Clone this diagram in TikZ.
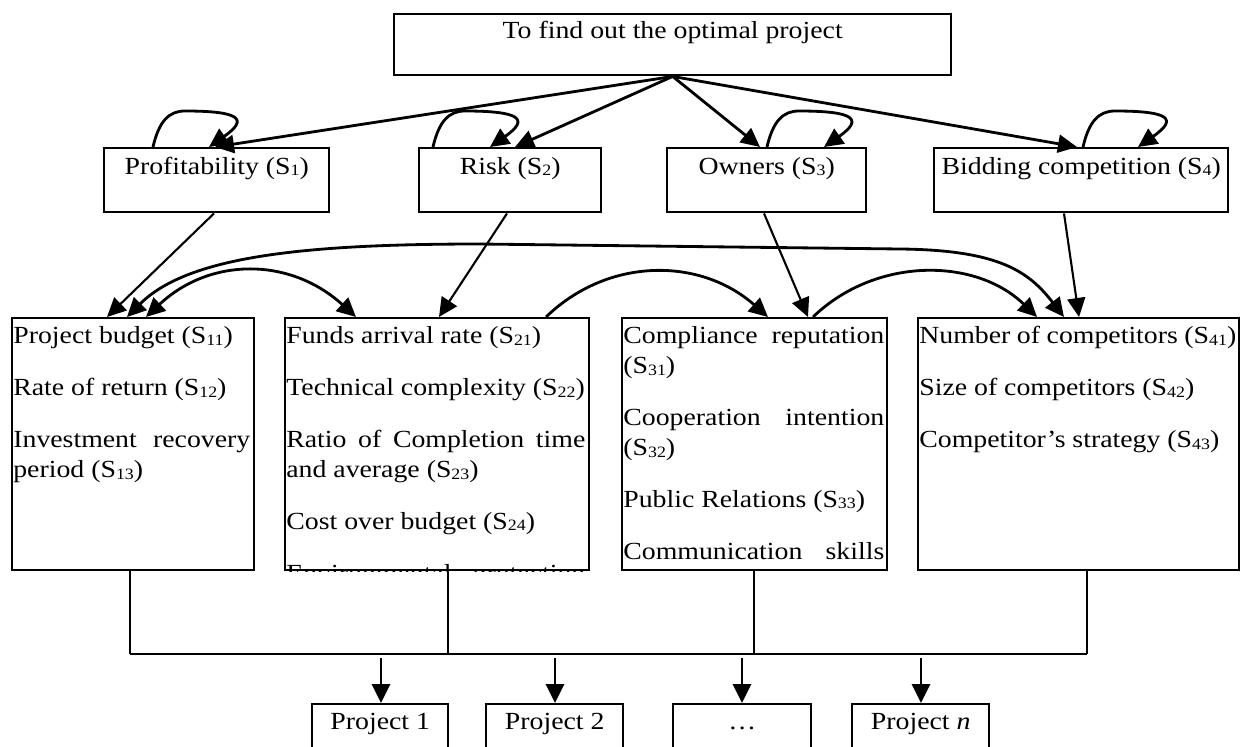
\documentclass[tikz,border=0pt]{standalone}
\usepackage{fontspec}
\setmainfont{Liberation Serif}[FakeStretch=1.13]
\usetikzlibrary{arrows.meta,calc}
\newcommand{\ssub}[1]{\raisebox{-0.15ex}{\fontsize{9pt}{9pt}\selectfont #1}}
\begin{document}
\begin{tikzpicture}[x=0.02cm, y=-0.02cm,
  font=\fontsize{14pt}{17.07pt}\selectfont,
  box/.style={draw, line width=1.4pt, inner sep=0pt, anchor=north west},
  lone/.style={box, text height=0.52cm, text depth=0.76cm, minimum height=1.28cm},
  ltwo/.style={box, minimum height=5.04cm},
  ltxt/.style={anchor=north west, inner sep=0pt},
  proj/.style={box, text height=0.5cm, text depth=1.0cm},
  tipm/.tip={Triangle[length=0.38cm,width=0.36cm]},
  arr/.style={line width=1.6pt, -tipm},
  barr/.style={line width=1.6pt, tipm-tipm},
  thinarr/.style={line width=1.2pt, -tipm},
  thinl/.style={line width=1.1pt},
  busl/.style={line width=1.6pt}]
\useasboundingbox (0,0) rectangle (1241,747);
\clip (0,0) rectangle (1241,747);

% top
\node[box, minimum width=11.14cm, text height=0.48cm, text depth=0.74cm] (top) at (393,13) {To find out the optimal project};

% level 1
\node[lone, minimum width=4.50cm] (p1) at (103,147) {Profitability (S\ssub{1})};
\node[lone, minimum width=3.64cm] (p2) at (418,147) {Risk (S\ssub{2})};
\node[lone, minimum width=3.98cm] (p3) at (666,147) {Owners (S\ssub{3})};
\node[lone, minimum width=5.88cm] (p4) at (933,147) {Bidding competition (S\ssub{4})};

% level 2 boxes
\node[ltwo, minimum width=4.84cm] (b1) at (11,317) {};
\node[ltwo, minimum width=6.08cm] (b2) at (284,317) {};
\node[ltwo, minimum width=5.30cm] (b3) at (621,317) {};
\node[ltwo, minimum width=6.42cm] (b4) at (917,317) {};

\node[ltxt] (t1) at ($(b1.north west)+(2,0)$) {\parbox[t]{4.74cm}{\setlength{\parskip}{0.44cm}\rule{0pt}{0.52cm}Project budget (S\ssub{11})\par
Rate of return (S\ssub{12})\par
Investment\hfill recovery\\period (S\ssub{13})}};

\begin{scope}
\clip (b2.north west) rectangle (b2.south east);
\node[ltxt] (t2) at ($(b2.north west)+(2,0)$) {\parbox[t]{5.98cm}{\setlength{\parskip}{0.44cm}\rule{0pt}{0.52cm}Funds arrival rate (S\ssub{21})\par
Technical complexity (S\ssub{22})\par
Ratio\hfill of\hfill Completion\hfill time\\and average (S\ssub{23})\par
Cost over budget (S\ssub{24})\par
Environmental\hfill protection}};
\end{scope}

\begin{scope}
\clip (b3.north west) rectangle (b3.south east);
\node[ltxt] (t3) at ($(b3.north west)+(2,0)$) {\parbox[t]{5.22cm}{\setlength{\parskip}{0.44cm}\rule{0pt}{0.52cm}Compliance\hfill reputation\\(S\ssub{31})\par
Cooperation\hfill intention\\(S\ssub{32})\par
Public Relations (S\ssub{33})\par
Communication\hfill skills}};
\end{scope}

\node[ltxt] (t4) at ($(b4.north west)+(2,0)$) {\parbox[t]{6.34cm}{\setlength{\parskip}{0.44cm}\rule{0pt}{0.52cm}Number of competitors (S\ssub{41})\par
Size of competitors (S\ssub{42})\par
Competitor's strategy (S\ssub{43})}};

% project boxes
\node[proj, minimum width=2.72cm] (q1) at (311,703) {Project 1};
\node[proj, minimum width=2.74cm] (q2) at (485,703) {Project 2};
\node[proj, minimum width=2.76cm] (q3) at (672,703) {\dots};
\node[proj, minimum width=2.74cm] (q4) at (851,703) {Project \textit{n}};

% top arrows
\draw[arr] (top.south) -- ($(p1.north west)+(112,0)$);
\draw[arr] (top.south) -- ($(p2.north west)+(97,0)$);
\draw[arr] (top.south) -- ($(p3.north west)+(94,0)$);
\draw[arr] (top.south) -- ($(p4.north west)+(144,0)$);

% self loops
\draw[arr] ($(p1.north west)+(50,0)$) .. controls +(6,-26) and +(-16,0) .. ++(32,-36)
  .. controls +(55,0) and +(40,-28) .. ($(p1.north west)+(106,0)$);
\draw[arr] ($(p2.north west)+(15,0)$) .. controls +(6,-26) and +(-16,0) .. ++(32,-36)
  .. controls +(55,0) and +(40,-28) .. ($(p2.north west)+(72,0)$);
\draw[arr] ($(p3.north west)+(101,0)$) .. controls +(6,-26) and +(-16,0) .. ++(32,-36)
  .. controls +(55,0) and +(40,-28) .. ($(p3.north west)+(158,0)$);
\draw[arr] ($(p4.north west)+(150,0)$) .. controls +(6,-26) and +(-16,0) .. ++(32,-36)
  .. controls +(55,0) and +(40,-28) .. ($(p4.north west)+(205,0)$);

% level1 -> level2
\draw[thinarr] ($(p1.south west)+(111,0)$) -- ($(b1.north west)+(96,0)$);
\draw[thinarr] ($(p2.south west)+(89,0)$) -- ($(b2.north west)+(155,0)$);
\draw[thinarr] ($(p3.south west)+(98,0)$) -- ($(b3.north west)+(187,0)$);
\draw[thinarr] ($(p4.south west)+(131,0)$) -- ($(b4.north west)+(162,0)$);

% arcs between level 2 boxes
\draw[barr] ($(b1.north west)+(135,0)$) .. controls +(64,-60) and +(-66,-60) .. ($(b2.north west)+(72,0)$);
\draw[arr] ($(b2.north west)+(262,0)$) .. controls +(62,-60) and +(-68,-60) .. ($(b3.north west)+(147,0)$);
\draw[arr] ($(b3.north west)+(192,0)$) .. controls +(62,-60) and +(-62,-60) .. ($(b4.north west)+(120,0)$);
\draw[barr] ($(b1.north west)+(116,0)$) .. controls +(60,-60) and +(-180,0) .. (480,244)
  -- (900,249) .. controls +(100,1) and +(-35,-45) .. ($(b4.north west)+(147,0)$);

% bus
\coordinate (v1) at (130,654);
\coordinate (v2) at (448,654);
\coordinate (v3) at (754,654);
\coordinate (v4) at (1087,654);
\draw[thinl] (v1 |- b1.south) -- (v1);
\draw[thinl] (v2 |- b2.south) -- (v2);
\draw[thinl] (v3 |- b3.south) -- (v3);
\draw[thinl] (v4 |- b4.south) -- (v4);
\draw[busl] (v1) -- (v4);

\coordinate (d1) at (381,658);
\coordinate (d2) at (555,658);
\coordinate (d3) at (742,658);
\coordinate (d4) at (921,658);
\draw[arr] (d1) -- (d1 |- q1.north);
\draw[arr] (d2) -- (d2 |- q2.north);
\draw[arr] (d3) -- (d3 |- q3.north);
\draw[arr] (d4) -- (d4 |- q4.north);
\end{tikzpicture}
\end{document}
